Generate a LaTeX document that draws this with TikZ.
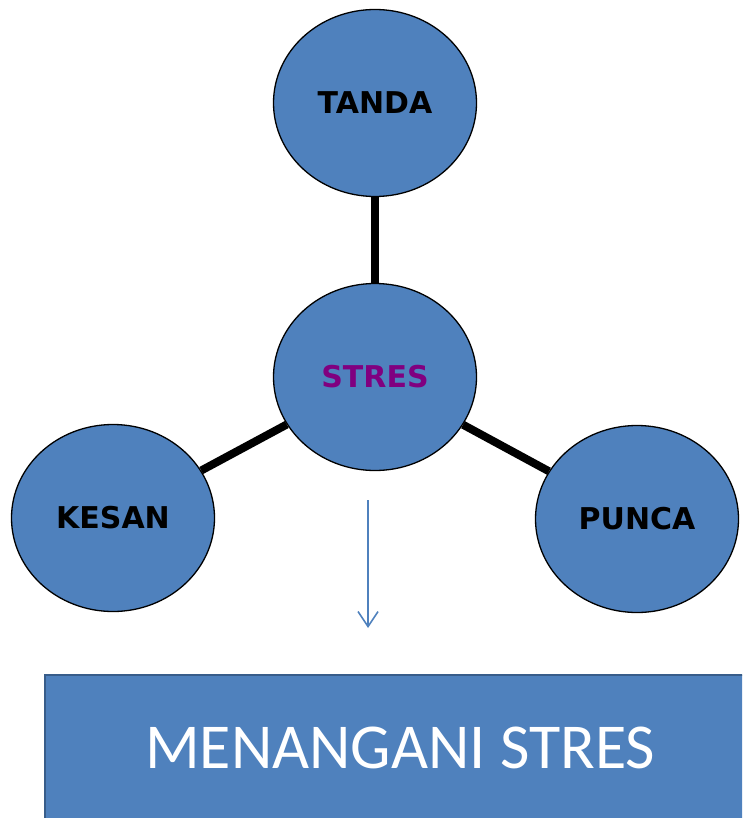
\documentclass[tikz,border=0pt]{standalone}
\usepackage{fontspec}
\setmainfont{Carlito}
\newfontfamily\bubblefont{DejaVu Sans}
\usetikzlibrary{arrows.meta,shapes.geometric}
\definecolor{bubbleblue}{HTML}{4F81BD}
\definecolor{boxedge}{HTML}{385D8A}
\definecolor{stresviolet}{HTML}{800080}
\tikzset{
    bubble/.style={ellipse,draw=black,line width=1.3pt,fill=bubbleblue,
        minimum width=203pt,minimum height=187pt,inner sep=0pt,
        font=\bubblefont\bfseries\fontsize{30}{30}\selectfont},
    spoke/.style={line width=8pt,black}
}

\begin{document}
\begin{tikzpicture}[x=1pt,y=-1pt]
        \useasboundingbox (0,0) rectangle (742,818);
        \clip (0,0) rectangle (742,818);
        % the four bubbles
        \node[bubble] (tanda) at (375,103) {TANDA};
        \node[bubble,text=stresviolet] (stres) at (375,377) {STRES};
        \node[bubble] (kesan) at (113,518) {KESAN};
        \node[bubble] (punca) at (637,519) {PUNCA};
        \draw[spoke] (stres) -- (tanda);
        \draw[spoke] (stres) -- (kesan);
        \draw[spoke] (stres) -- (punca);
        % arrow down to the box
        \coordinate (arrowtop) at (368,500);
        \coordinate (arrowend) at (368,628);
        \draw[bubbleblue,line width=1.6pt,-{Straight Barb[length=15pt,width=20pt]}] (arrowtop) -- (arrowend);
        \node[draw=boxedge,line width=2.5pt,fill=bubbleblue,text=white,
            minimum width=715pt,minimum height=155pt,inner sep=0pt,
            font=\fontsize{64}{64}\selectfont] (menangani) at (402.5,752.5) {};
        \node[text=white,font=\fontsize{64}{64}\selectfont] (menangtext) at (400,748) {MENANGANI STRES};
    \end{tikzpicture}
\end{document}
